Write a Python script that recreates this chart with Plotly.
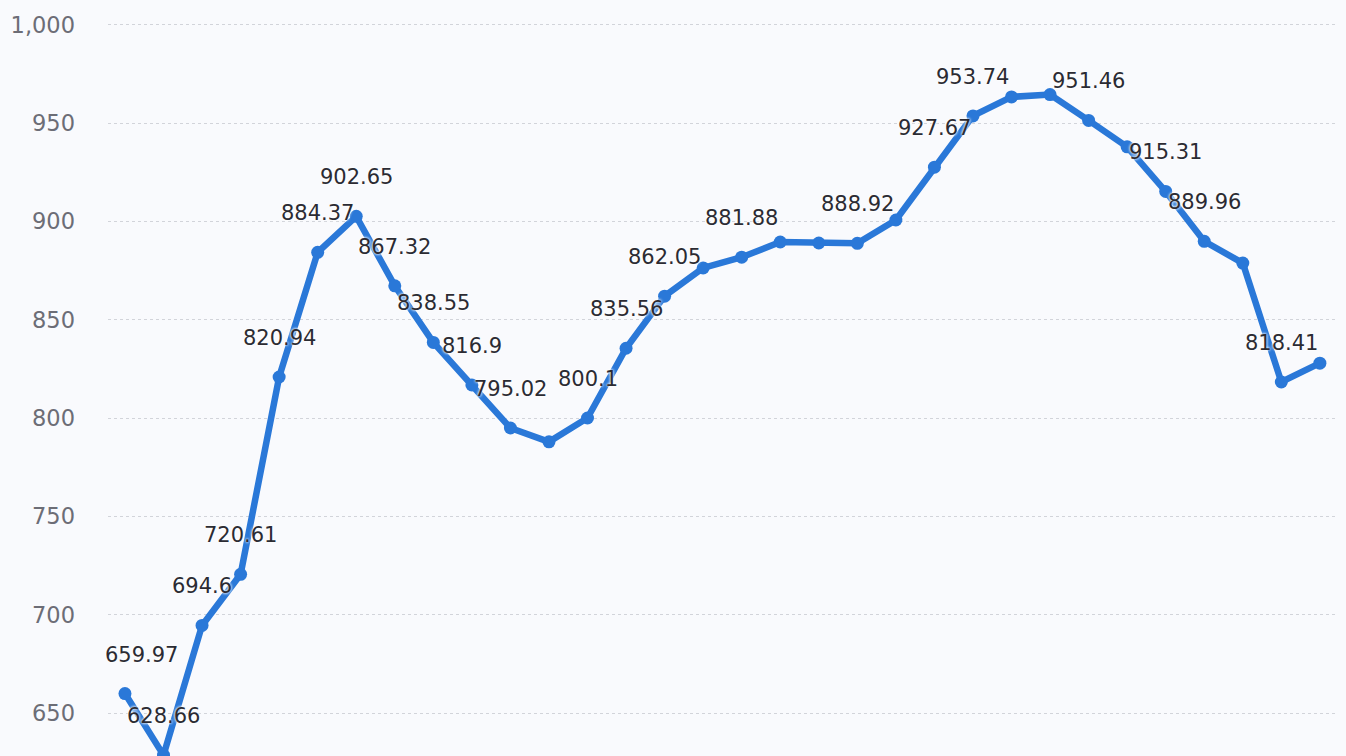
import plotly.graph_objects as go

# data (32 consecutive points; x axis not shown)
idx = list(range(32))
values = [659.97, 628.66, 694.6, 720.61, 820.94, 884.37, 902.65, 867.32,
          838.55, 816.9, 795.02, 788.0, 800.1, 835.56, 862.05, 876.4,
          881.88, 889.6, 889.1, 888.92, 900.8, 927.67, 953.74, 963.4,
          964.6, 951.46, 938.0, 915.31, 889.96, 878.9, 818.41, 828.0]
# points whose value is printed in the picture
labeled = [True, True, True, True, True, True, True, True,
           True, True, True, False, True, True, True, False,
           True, False, False, True, False, True, True, False,
           False, True, False, True, True, False, True, False]
ytick_vals = [650, 700, 750, 800, 850, 900, 950, 1000]
ytick_text = ["650", "700", "750", "800", "850", "900", "950", "1,000"]

BLUE = "#2a78d8"
BG = "#f9fafd"
fig = go.Figure()
fig.add_trace(go.Scatter(
    x=idx, y=values, mode="lines+markers",
    line=dict(color=BLUE, width=6.5),
    marker=dict(color=BLUE, size=13),
    cliponaxis=False, hoverinfo="skip",
))

for i, (v, show) in enumerate(zip(values, labeled)):
    if not show:
        continue
    fig.add_annotation(
        x=idx[i], y=v, text=f"{v:g}", showarrow=False,
        yshift=39, xshift=17 if i == 0 else 0,
        font=dict(family="DejaVu Sans", size=21, color="#2b2b33",
                  shadow="0px 0px 3px #ffffff, 0px 0px 3px #ffffff"),
    )

fig.update_layout(
    width=1346, height=756,
    margin=dict(l=108, r=8, t=21, b=0),
    paper_bgcolor=BG, plot_bgcolor=BG,
    showlegend=False,
    xaxis=dict(range=[-0.44, 31.47], showgrid=False, zeroline=False,
               showticklabels=False, showline=False, ticks=""),
    yaxis=dict(range=[628.2, 1002], tickvals=ytick_vals, ticktext=ytick_text,
               showgrid=True, gridcolor="#d2d4da", griddash="dot", gridwidth=1,
               zeroline=False, showline=False, ticks="", ticklabelstandoff=32,
               tickfont=dict(family="DejaVu Sans", size=22.5, color="#6c6d76")),
)
fig.write_html("out.html")
